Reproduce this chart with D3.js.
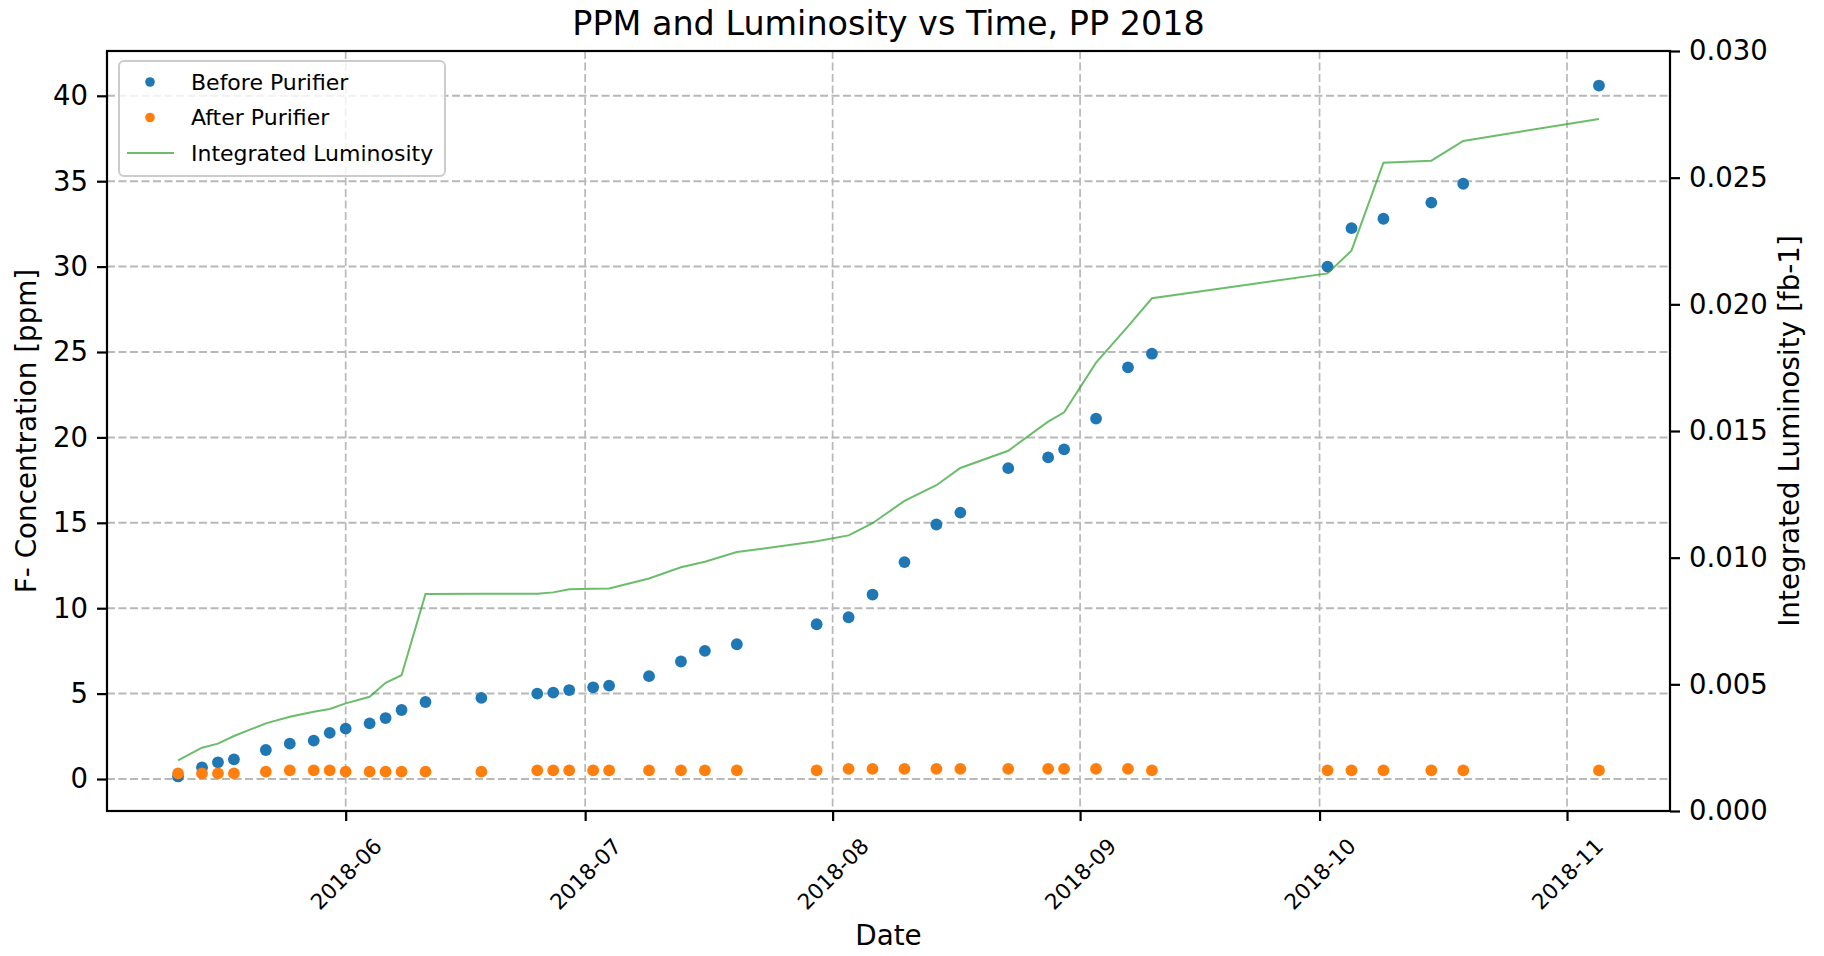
<!DOCTYPE html>
<html>
<head>
<meta charset="utf-8">
<script src="https://cdn.jsdelivr.net/npm/d3@7"></script>
<style>
    body { margin: 0; background: #fff; }
    svg text { font-family: "DejaVu Sans", sans-serif; fill: #000; }
</style>
</head>
<body>
<svg width="1824" height="956"></svg>
<script>
// sample dates (one per measurement)
const dates = ["2018-05-11", "2018-05-14", "2018-05-16", "2018-05-18", "2018-05-22", "2018-05-25",
    "2018-05-28", "2018-05-30", "2018-06-01", "2018-06-04", "2018-06-06", "2018-06-08", "2018-06-11",
    "2018-06-18", "2018-06-25", "2018-06-27", "2018-06-29", "2018-07-02", "2018-07-04", "2018-07-09",
    "2018-07-13", "2018-07-16", "2018-07-20", "2018-07-30", "2018-08-03", "2018-08-06", "2018-08-10",
    "2018-08-14", "2018-08-17", "2018-08-23", "2018-08-28", "2018-08-30", "2018-09-03", "2018-09-07",
    "2018-09-10", "2018-10-02", "2018-10-05", "2018-10-09", "2018-10-15", "2018-10-19", "2018-11-05"];

// F- concentration [ppm]
const beforePurifier = [0.15, 0.68, 0.98, 1.15, 1.70, 2.07, 2.25, 2.70, 2.95, 3.26, 3.57, 4.04, 4.51,
    4.75, 5.00, 5.06, 5.21, 5.37, 5.47, 6.02, 6.88, 7.50, 7.89, 9.06, 9.47, 10.8, 12.7,
    14.9, 15.6, 18.2, 18.83, 19.3, 21.1, 24.1, 24.9, 30.0, 32.25, 32.8, 33.75, 34.85, 40.6];
const afterPurifier = [0.33, 0.33, 0.33, 0.33, 0.43, 0.51, 0.51, 0.51, 0.43, 0.43, 0.43, 0.43, 0.43,
    0.43, 0.51, 0.51, 0.51, 0.51, 0.51, 0.51, 0.51, 0.51, 0.51, 0.51, 0.59, 0.59, 0.59,
    0.59, 0.59, 0.59, 0.59, 0.59, 0.59, 0.59, 0.51, 0.51, 0.51, 0.51, 0.51, 0.51, 0.51];

// integrated luminosity [fb-1]
const luminosity = [0.00200, 0.00250, 0.00266, 0.00296, 0.00346, 0.00372, 0.00392, 0.00403, 0.00425,
    0.00451, 0.00506, 0.00536, 0.00857, 0.00858, 0.00858, 0.00863, 0.00875, 0.00877, 0.00878,
    0.00918, 0.00962, 0.00984, 0.01022, 0.01065, 0.01088, 0.01136, 0.01224, 0.01286, 0.01354,
    0.01422, 0.01537, 0.01574, 0.01770, 0.01913, 0.02024, 0.02122, 0.02212, 0.02559, 0.02567,
    0.02645, 0.02732];

const ppmTicks = [0, 5, 10, 15, 20, 25, 30, 35, 40];
const lumiTicks = [0, 0.005, 0.010, 0.015, 0.020, 0.025, 0.030];

const parseDate = d3.timeParse("%Y-%m-%d");
const rows = dates.map(function (d, i) {
    return {date: parseDate(d), before: beforePurifier[i], after: afterPurifier[i], lumi: luminosity[i]};
});

var svg = d3.select("svg");
const plotLeft = 107, plotRight = 1670, plotTop = 51, plotBottom = 811;

// matplotlib style 5% margins
function padded(ext) {
    let pad = (ext[1] - ext[0]) * 0.05;
    return [ext[0] - pad, ext[1] + pad];
}

const dateExt = d3.extent(rows, d => d.date).map(d => +d);
const x = d3.scaleTime()
    .domain(padded(dateExt).map(d => new Date(d)))
    .range([plotLeft, plotRight]);

const yPpm = d3.scaleLinear()
    .domain(padded(d3.extent(beforePurifier.concat(afterPurifier))))
    .range([plotBottom, plotTop]);

const yLumi = d3.scaleLinear()
    .domain([0, 0.030])
    .range([plotBottom, plotTop]);

const monthTicks = x.ticks(d3.timeMonth.every(1));

//grid
let grid = svg.append("g").attr("class", "grid");
grid.selectAll("line.h")
    .data(ppmTicks)
    .enter().append("line")
    .attr("x1", plotLeft).attr("x2", plotRight)
    .attr("y1", d => yPpm(d)).attr("y2", d => yPpm(d))
    .attr("stroke", "#b8b8b8")
    .attr("stroke-width", 2)
    .attr("stroke-dasharray", "8,3.5");
grid.selectAll("line.v")
    .data(monthTicks)
    .enter().append("line")
    .attr("x1", d => x(d)).attr("x2", d => x(d))
    .attr("y1", plotTop).attr("y2", plotBottom)
    .attr("stroke", "#b8b8b8")
    .attr("stroke-width", 1.7)
    .attr("stroke-dasharray", "8,3.5");

//scatter points
svg.append("g")
    .selectAll("circle")
    .data(rows)
    .enter().append("circle")
    .attr("cx", d => x(d.date))
    .attr("cy", d => yPpm(d.before))
    .attr("r", 5.9)
    .attr("fill", "#1f77b4");

svg.append("g")
    .selectAll("circle")
    .data(rows)
    .enter().append("circle")
    .attr("cx", d => x(d.date))
    .attr("cy", d => yPpm(d.after))
    .attr("r", 5.9)
    .attr("fill", "#ff7f0e");

//luminosity line on the twin axis
const lumiLine = d3.line()
    .x(d => x(d.date))
    .y(d => yLumi(d.lumi));

svg.append("path")
    .datum(rows)
    .attr("d", lumiLine)
    .attr("fill", "none")
    .attr("stroke", "#2ca02c")
    .attr("stroke-opacity", 0.7)
    .attr("stroke-width", 2);

//axes
function styleAxis(g) {
    g.select(".domain").remove();
    g.selectAll(".tick line").attr("stroke", "#000").attr("stroke-width", 2.2);
    g.selectAll(".tick text").attr("fill", "#000");
}

svg.append("g")
    .attr("transform", "translate(" + plotLeft + ",0)")
    .call(d3.axisLeft(yPpm).tickValues(ppmTicks).tickSize(10).tickPadding(9))
    .call(styleAxis)
    .selectAll(".tick text").attr("font-size", 27.5);

svg.append("g")
    .attr("transform", "translate(" + plotRight + ",0)")
    .call(d3.axisRight(yLumi).tickValues(lumiTicks).tickSize(10).tickPadding(9).tickFormat(d3.format(".3f")))
    .call(styleAxis)
    .selectAll(".tick text").attr("font-size", 27.5);

let xAxis = svg.append("g")
    .attr("transform", "translate(0," + plotBottom + ")")
    .call(d3.axisBottom(x).tickValues(monthTicks).tickSize(10).tickFormat(d3.timeFormat("%Y-%m")))
    .call(styleAxis);

// rotated labels, box centred under the tick
xAxis.selectAll(".tick text")
    .attr("font-size", 21.5)
    .attr("text-anchor", "middle")
    .attr("dy", null)
    .attr("y", null)
    .attr("dominant-baseline", "central")
    .attr("transform", "translate(0,63) rotate(-45)");

//frame
svg.append("rect")
    .attr("x", plotLeft).attr("y", plotTop)
    .attr("width", plotRight - plotLeft).attr("height", plotBottom - plotTop)
    .attr("fill", "none")
    .attr("stroke", "#000")
    .attr("stroke-width", 2.2);

//titles
svg.append("text")
    .attr("x", (plotLeft + plotRight) / 2).attr("y", 34.5)
    .attr("text-anchor", "middle")
    .attr("font-size", 33.4)
    .text("PPM and Luminosity vs Time, PP 2018");

svg.append("text")
    .attr("x", (plotLeft + plotRight) / 2).attr("y", 945)
    .attr("text-anchor", "middle")
    .attr("font-size", 27.8)
    .text("Date");

svg.append("text")
    .attr("transform", "translate(36," + (plotTop + plotBottom) / 2 + ") rotate(-90)")
    .attr("text-anchor", "middle")
    .attr("font-size", 27.8)
    .text("F- Concentration [ppm]");

svg.append("text")
    .attr("transform", "translate(1799," + (plotTop + plotBottom) / 2 + ") rotate(-90)")
    .attr("text-anchor", "middle")
    .attr("font-size", 27.8)
    .text("Integrated Luminosity [fb-1]");

//legend
const legendItems = [
    {label: "Before Purifier", kind: "dot", color: "#1f77b4"},
    {label: "After Purifier", kind: "dot", color: "#ff7f0e"},
    {label: "Integrated Luminosity", kind: "line", color: "#2ca02c"}
];

let legend = svg.append("g").attr("transform", "translate(119,61)");
legend.append("rect")
    .attr("width", 326).attr("height", 115)
    .attr("rx", 5)
    .attr("fill", "#fff").attr("fill-opacity", 0.8)
    .attr("stroke", "#cccccc").attr("stroke-width", 2);

let item = legend.selectAll("g.item")
    .data(legendItems)
    .enter().append("g")
    .attr("transform", (d, i) => "translate(0," + (21 + i * 35.5) + ")");

item.filter(d => d.kind === "dot").append("circle")
    .attr("cx", 31).attr("r", 4.8)
    .attr("fill", d => d.color);

item.filter(d => d.kind === "line").append("line")
    .attr("x1", 8).attr("x2", 55)
    .attr("stroke", d => d.color)
    .attr("stroke-opacity", 0.7)
    .attr("stroke-width", 2);

item.append("text")
    .attr("x", 72)
    .attr("dy", "0.35em")
    .attr("font-size", 22)
    .text(d => d.label);
</script>
</body>
</html>
